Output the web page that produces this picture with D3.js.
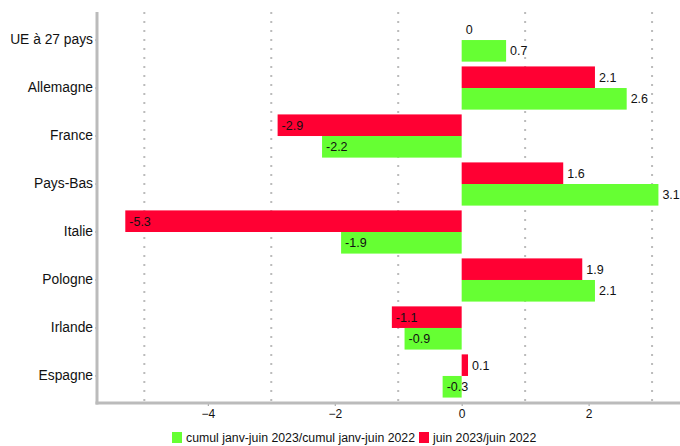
<!DOCTYPE html>
<html><head><meta charset="utf-8">
<script src="https://cdn.jsdelivr.net/npm/d3@7"></script>
<style>body{margin:0;background:#fff}svg{display:block;font-family:"Liberation Sans",Arial,sans-serif}</style>
</head><body>
<svg id="c" width="680" height="446"></svg>
<script>
const categories = ["UE à 27 pays","Allemagne","France","Pays-Bas","Italie","Pologne","Irlande","Espagne"];
const juin = [0, 2.1, -2.9, 1.6, -5.3, 1.9, -1.1, 0.1];
const cumul = [0.7, 2.6, -2.2, 3.1, -1.9, 2.1, -0.9, -0.3];
const seriesNames = ["cumul janv-juin 2023/cumul janv-juin 2022", "juin 2023/juin 2022"];
const xTicks = [-4, -2, 0, 2];
const gridTicks = [-5, -3, -1, 1, 3];
const colors = {juin: "#ff0033", cumul: "#66ff33"};

const FONT = "'Liberation Sans', Arial, sans-serif";
const svg = d3.select("#c");
const mLeft = 98, mRight = 680, mTop = 12, mBottom = 403;
const x = d3.scaleLinear().domain([-5.73, 3.44]).range([mLeft, mRight]);
const y = d3.scaleBand().domain(categories).range([mTop + 5, mBottom - 4]).paddingInner(0.1).paddingOuter(0.03);
const sub = d3.scaleBand().domain(["juin","cumul"]).range([0, y.bandwidth()]);

// grid
svg.append("g").selectAll("line").data(gridTicks).join("line")
  .attr("x1", d => x(d)).attr("x2", d => x(d)).attr("y1", mTop).attr("y2", mBottom)
  .attr("stroke", "#bbb").attr("stroke-width", 2).attr("stroke-dasharray", "2,7");

const rows = categories.map((c, i) => ({c, juin: juin[i], cumul: cumul[i]}));
const bars = [];
rows.forEach(r => { bars.push({c: r.c, k: "juin", v: r.juin}); bars.push({c: r.c, k: "cumul", v: r.cumul}); });

svg.append("g").selectAll("rect").data(bars.filter(d => d.v !== 0)).join("rect")
  .attr("x", d => x(Math.min(0, d.v))).attr("width", d => Math.abs(x(d.v) - x(0)))
  .attr("y", d => y(d.c) + sub(d.k)).attr("height", sub.bandwidth())
  .attr("fill", d => colors[d.k]);

svg.append("g").selectAll("text").data(bars).join("text")
  .attr("x", d => x(d.v) + 4)
  .attr("y", d => y(d.c) + sub(d.k) + sub.bandwidth() / 2)
  .attr("dy", "0.35em").attr("font-size", 12.5).attr("fill", "#111").style("font-family", FONT)
  .text(d => d.v);

// axes
const gy = svg.append("g").attr("transform", `translate(${mLeft},0)`)
  .call(d3.axisLeft(y).tickSize(3).tickPadding(2));
gy.attr("font-family", null);
gy.select(".domain").remove();
gy.selectAll(".tick line").attr("stroke", "#999");
gy.selectAll("text").attr("font-size", 13.8).attr("fill", "#111").style("font-family", FONT);
svg.append("line").attr("x1", mLeft - 1).attr("x2", mLeft - 1).attr("y1", mTop).attr("y2", mBottom + 1.5)
  .attr("stroke", "#bbb").attr("stroke-width", 3);

const gx = svg.append("g").attr("transform", `translate(0,${mBottom})`)
  .call(d3.axisBottom(x).tickValues(xTicks).tickSize(3).tickPadding(3).tickFormat(d3.format("d")));
gx.attr("font-family", null);
gx.select(".domain").remove();
gx.selectAll(".tick line").attr("stroke", "#999");
gx.selectAll("text").attr("font-size", 12).attr("fill", "#111").style("font-family", FONT);
svg.append("line").attr("x1", mLeft - 2.5).attr("x2", mRight).attr("y1", mBottom).attr("y2", mBottom)
  .attr("stroke", "#bbb").attr("stroke-width", 3);

// legend
const leg = svg.append("g");
const items = [{n: seriesNames[0], c: colors.cumul, x: 172}, {n: seriesNames[1], c: colors.juin, x: 419}];
items.forEach(it => {
  leg.append("rect").attr("x", it.x).attr("y", 432).attr("width", 10).attr("height", 11).attr("fill", it.c);
  leg.append("text").attr("x", it.x + 14).attr("y", 438).attr("dy", "0.35em").attr("font-size", 12.3)
    .attr("fill", "#111").style("font-family", FONT).text(it.n);
});
</script>
</body></html>
